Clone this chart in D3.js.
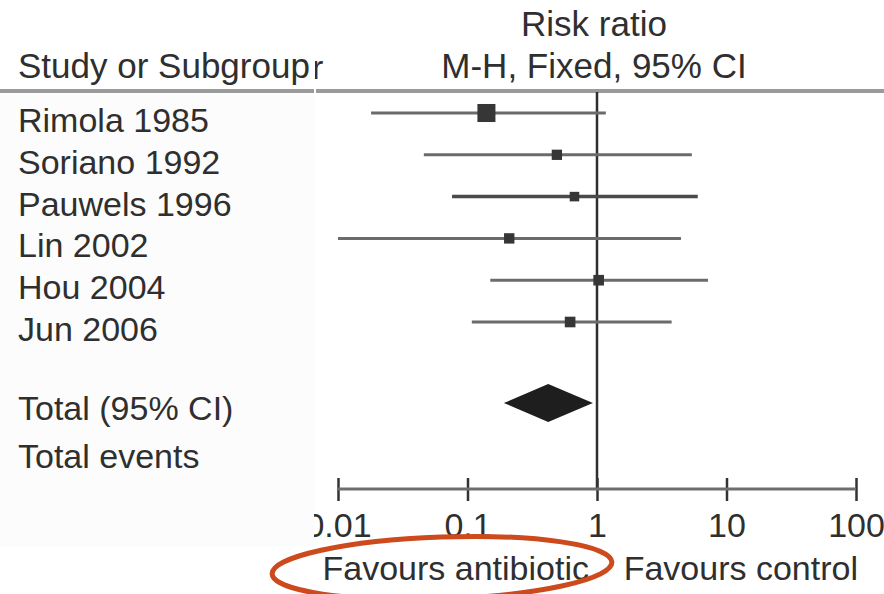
<!DOCTYPE html>
<html lang="en">
<head>
    <meta charset="UTF-8">
    <title>Forest plot - antibiotic prophylaxis</title>
    <style>
        body { margin: 0; background: #fff; }
        svg text {
            font-family: "Liberation Sans", Arial, Helvetica, sans-serif;
            fill: #2f2f2f;
        }
        .lbl { font-size: 34px; }
        .head { font-size: 35px; }
        .tick text { font-size: 34px; }
    </style>
</head>
<body>
    <svg id="forest" width="884" height="594"></svg>

    <script src="https://d3js.org/d3.v7.min.js"></script>
    <script>
        // study data (risk ratio and 95% CI)
        var studies = ["Rimola 1985", "Soriano 1992", "Pauwels 1996", "Lin 2002", "Hou 2004", "Jun 2006"];
        var ratio = [0.14, 0.49, 0.67, 0.21, 1.03, 0.62];
        var lower = [0.018, 0.046, 0.076, 0.01, 0.15, 0.108];
        var upper = [1.17, 5.4, 6.0, 4.45, 7.2, 3.77];
        var weight = [38.0, 12.4, 10.6, 12.6, 13.2, 13.2];

        // pooled estimate
        var totalRatio = 0.42, totalLower = 0.191, totalUpper = 0.93;

        var ticks = [0.01, 0.1, 1, 10, 100];
        var tickLabels = ["0.01", "0.1", "1", "10", "100"];
        var favours = ["Favours antibiotic", "Favours control"];

        var svg = d3.select("#forest"),
            width = +svg.attr("width");

        var x = d3.scaleLog().domain([0.01, 100]).range([338, 856]);
        var y = d3.scaleLinear().domain([0, studies.length - 1]).range([113, 322]);
        var size = d3.scaleSqrt().domain([0, 40]).range([0, 18.5]);

        var totalY = 403, eventsY = 449, axisY = 489;

        // header
        svg.append("text").attr("class", "head")
           .attr("x", 594).attr("y", 36).attr("text-anchor", "middle")
           .text("Risk ratio");
        svg.append("text").attr("class", "head")
           .attr("x", 594).attr("y", 78).attr("text-anchor", "middle")
           .text("M-H, Fixed, 95% CI");

        // clipped letter left over where the two panels were joined
        svg.append("clipPath").attr("id", "cut")
           .append("rect").attr("x", 315).attr("y", 0).attr("width", 20).attr("height", 90);
        svg.append("text").attr("class", "lbl")
           .attr("x", 312).attr("y", 79)
           .attr("clip-path", "url(#cut)")
           .text("r");

        svg.append("rect")
           .attr("x", 0).attr("y", 89).attr("width", width).attr("height", 4)
           .attr("fill", "#9a9a9a");

        // line of no effect
        svg.append("line")
           .attr("x1", x(1)).attr("x2", x(1))
           .attr("y1", 92).attr("y2", axisY)
           .attr("stroke", "#2e2e2e").attr("stroke-width", 2.5);

        var rows = studies.map(function(s, i) {
            return { name: s, rr: ratio[i], lo: lower[i], hi: upper[i], w: weight[i], i: i };
        });

        // confidence intervals
        svg.selectAll(".ci")
           .data(rows)
           .enter().append("line")
           .attr("class", "ci")
           .attr("x1", function(d) { return x(d.lo); })
           .attr("x2", function(d) { return x(d.hi); })
           .attr("y1", function(d) { return y(d.i); })
           .attr("y2", function(d) { return y(d.i); })
           .attr("stroke", function(d) { return d.i == 2 ? "#4a4a4a" : "#6b6b6b"; })
           .attr("stroke-width", function(d) { return d.i == 2 ? 3.5 : 3; });

        // weight squares
        svg.selectAll(".sq")
           .data(rows)
           .enter().append("rect")
           .attr("class", "sq")
           .attr("x", function(d) { return x(d.rr) - size(d.w) / 2; })
           .attr("y", function(d) { return y(d.i) - size(d.w) / 2; })
           .attr("width", function(d) { return size(d.w); })
           .attr("height", function(d) { return size(d.w); })
           .attr("fill", "#363636");

        // pooled diamond
        var half = 19;
        svg.append("path")
           .attr("d", "M" + x(totalLower) + "," + totalY +
                      "L" + x(totalRatio) + "," + (totalY - half) +
                      "L" + x(totalUpper) + "," + totalY +
                      "L" + x(totalRatio) + "," + (totalY + half) + "Z")
           .attr("fill", "#1e1e1e");

        // x axis: long ticks above and below the line
        var axis = svg.append("g")
           .attr("transform", "translate(0," + (axisY - 11) + ")")
           .call(d3.axisBottom(x)
                   .tickValues(ticks)
                   .tickFormat(function(d, i) { return tickLabels[i]; })
                   .tickSize(23)
                   .tickPadding(12));
        axis.select(".domain").remove();
        axis.selectAll(".tick line").attr("stroke", "#333").attr("stroke-width", 2.5);
        axis.selectAll(".tick text").attr("fill", "#2f2f2f");

        svg.append("line")
           .attr("x1", x(0.01)).attr("x2", x(100))
           .attr("y1", axisY).attr("y2", axisY)
           .attr("stroke", "#6e6e6e").attr("stroke-width", 3);

        // left panel sits on top and clips the first tick label
        svg.append("rect")
           .attr("x", 0).attr("y", 94).attr("width", 314).attr("height", 452)
           .attr("fill", "#fcfcfc");
        svg.append("rect")
           .attr("x", 314).attr("y", 86).attr("width", 2).attr("height", 10)
           .attr("fill", "#fff");

        svg.append("text").attr("class", "head")
           .attr("x", 18).attr("y", 78)
           .text("Study or Subgroup");

        svg.selectAll(".name")
           .data(rows)
           .enter().append("text")
           .attr("class", "lbl name")
           .attr("x", 18)
           .attr("y", function(d) { return y(d.i) + 19; })
           .text(function(d) { return d.name; });

        svg.append("text").attr("class", "lbl")
           .attr("x", 18).attr("y", totalY + 17)
           .text("Total (95% CI)");
        svg.append("text").attr("class", "lbl")
           .attr("x", 18).attr("y", eventsY + 19)
           .text("Total events");

        // favours labels under the axis
        svg.append("text").attr("class", "lbl")
           .attr("x", x(1) - 8).attr("y", 580).attr("text-anchor", "end")
           .text(favours[0]);
        svg.append("text").attr("class", "lbl")
           .attr("x", x(100) + 2).attr("y", 580).attr("text-anchor", "end")
           .text(favours[1]);

        // red highlight ring
        svg.append("ellipse")
           .attr("cx", 442).attr("cy", 568)
           .attr("rx", 170).attr("ry", 31)
           .attr("transform", "rotate(-2,442,568)")
           .attr("fill", "none")
           .attr("stroke", "#cc4a1c")
           .attr("stroke-width", 5);
    </script>
</body>
</html>
